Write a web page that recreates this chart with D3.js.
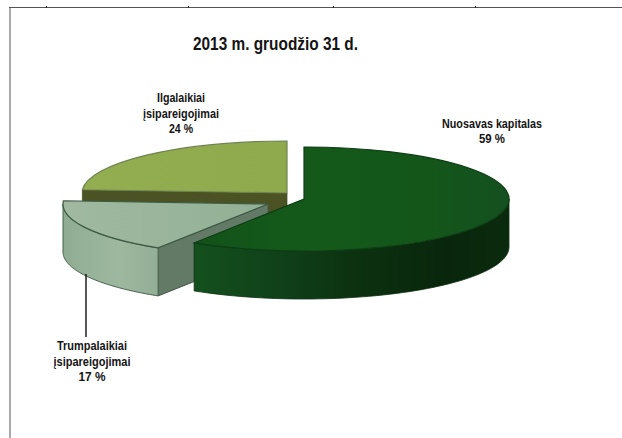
<!DOCTYPE html>
<html><head><meta charset="utf-8">
<script src="https://cdn.jsdelivr.net/npm/d3@7"></script>
<style>html,body{margin:0;background:#fff}svg{display:block}text{font-family:"Liberation Sans",Arial,sans-serif;font-weight:bold;fill:#141414;text-anchor:middle}</style>
</head><body><script>
const categories = ["Nuosavas kapitalas","Trumpalaikiai įsipareigojimai","Ilgalaikiai įsipareigojimai"];
const shares = [59,17,24];
const titleText = "2013 m. gruodžio 31 d.";
const labelLines = [["Nuosavas kapitalas","59 %"],["Trumpalaikiai","įsipareigojimai","17  %"],["Ilgalaikiai","įsipareigojimai","24 %"]];
const labelAnchors = [[492,128,15],[92,350,15.5],[181,102,15.5]];
const labelWidths = [[100,26],[70,77,27],[48,76,24]];
const centers = [[304,199],[268,204],[287,193]];
const topFills = ["url(#gTop)","url(#lTop)","url(#oTop)"];
const topStrokes = ["#0d3f14","#3d5a44","#6f8352"];
const sideFills = ["url(#gSide)","url(#lSide)","#4b5324"];
const wallFills = ["#0f3a14","#637a66","#4b5324"];
const frameTicks = [46,188,333,475];
const rx=205, ry=52, depth=48;
const W=622,H=438;
const svg=d3.select("body").append("svg").attr("width",W).attr("height",H);
const defs=svg.append("defs");
function grad(id,stops){const g=defs.append("linearGradient").attr("id",id);
 stops.forEach(([o,c])=>g.append("stop").attr("offset",o).attr("stop-color",c));}
grad("gTop",[[0,"#13521a"],[.3,"#14591a"],[.75,"#14561a"],[1,"#145020"]]);
grad("gSide",[[0,"#14501e"],[.25,"#10421a"],[.5,"#0c3210"],[.8,"#09260c"],[1,"#0a2a0d"]]);
grad("lTop",[[0,"#a0b9a0"],[1,"#92b095"]]);
grad("lSide",[[0,"#90ad93"],[.6,"#9db89e"],[1,"#93ae96"]]);
grad("oTop",[[0,"#92ae50"],[1,"#8faa4c"]]);

// page frame
svg.append("line").attr("x1",10).attr("x2",10).attr("y1",7).attr("y2",H).attr("stroke","#aaa").attr("stroke-width",2);
svg.append("line").attr("x1",9).attr("x2",W).attr("y1",7.5).attr("y2",7.5).attr("stroke","#555").attr("stroke-width",1);
svg.selectAll("line.t").data(frameTicks).join("line").attr("class","t").attr("x1",d=>d+.5).attr("x2",d=>d+.5).attr("y1",6).attr("y2",8).attr("stroke","#222");

const pie=d3.pie().sort(null).value(d=>d).startAngle(0).endAngle(2*Math.PI)(shares);
const arc=d3.arc().innerRadius(0).outerRadius(rx);
const pt=(i,a,dz=0)=>[centers[i][0]+rx*Math.sin(a),centers[i][1]-ry*Math.cos(a)+dz];
const line=d3.line();
function rim(i,a0,a1){
 const n=60, up=d3.range(n+1).map(k=>pt(i,a0+(a1-a0)*k/n));
 const dn=up.map(p=>[p[0],p[1]+depth]).reverse();
 return line(up.concat(dn))+"Z";
}
function wall(i,a){const c=centers[i],p=pt(i,a);
 return line([c,p,[p[0],p[1]+depth],[c[0],c[1]+depth]])+"Z";}

function drawSlice(i){
 const s=pie[i], g=svg.append("g");
 if(i===2){
  g.append("path").attr("d",wall(i,s.startAngle)).attr("fill",wallFills[i]).attr("stroke","#3c4420").attr("stroke-width",.7);
 }
 if(i===1){
  g.append("path").attr("d",wall(i,s.startAngle)).attr("fill",wallFills[i]).attr("stroke","#46584a").attr("stroke-width",1);
  g.append("path").attr("d",rim(i,s.startAngle,Math.min(s.endAngle,1.5*Math.PI))).attr("fill",sideFills[i]).attr("stroke","#46604c").attr("stroke-width",1);
 }
 if(i===0){
  g.append("path").attr("d",rim(i,Math.PI/2,s.endAngle)).attr("fill",sideFills[i]).attr("stroke","#0c3010").attr("stroke-width",.8);
 }
 g.append("path").attr("d",arc(s))
  .attr("transform",`translate(${centers[i]}) scale(1,${ry/rx})`)
  .attr("fill",topFills[i]).attr("stroke",topStrokes[i]).attr("stroke-width",1.2)
  .attr("vector-effect","non-scaling-stroke");
}
drawSlice(2);drawSlice(1);drawSlice(0);

svg.append("line").attr("x1",86).attr("x2",86).attr("y1",274).attr("y2",337).attr("stroke","#111").attr("stroke-width",1.4);

svg.append("text").attr("x",275.5).attr("y",49.5).attr("font-size",17.5).attr("textLength",165).attr("lengthAdjust","spacingAndGlyphs").text(titleText);
labelLines.forEach((ls,i)=>{
 ls.forEach((t,j)=>{
  svg.append("text").attr("x",labelAnchors[i][0]).attr("y",labelAnchors[i][1]+j*labelAnchors[i][2]).attr("font-size",12)
   .attr("textLength",labelWidths[i][j]).attr("lengthAdjust","spacingAndGlyphs").text(t);
 });
});
</script></body></html>
